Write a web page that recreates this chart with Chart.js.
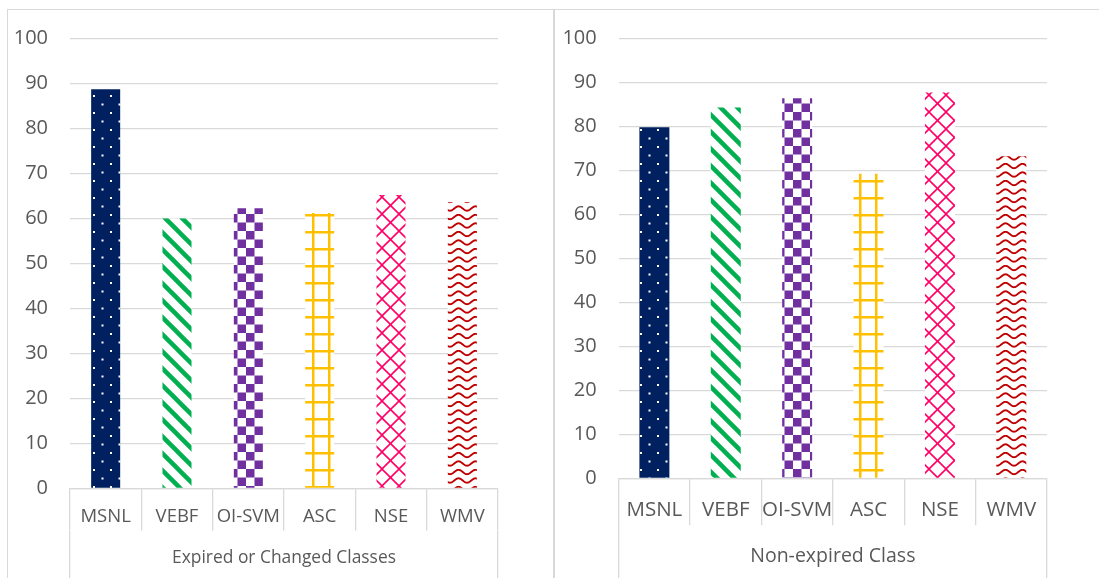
<!DOCTYPE html>
<html>
<head>
<meta charset="utf-8">
<script src="https://cdn.jsdelivr.net/npm/chart.js@4.4.1/dist/chart.umd.min.js"></script>
<style>
  html, body { margin: 0; padding: 0; background: #fff; width: 1099px; height: 578px; overflow: hidden; }
  .panel { position: absolute; top: 9px; height: 600px; box-sizing: border-box;
           border-top: 1.5px solid #d9d9d9; border-left: 1.5px solid #d9d9d9; }
  #p1 { left: 7px; width: 547px; border-right: 1.5px solid #d9d9d9; }
  #p2 { left: 554px; width: 600px; }
  canvas { position: absolute; }
  #c1 { left: 8px; top: 10px; }
  #c2 { left: 555px; top: 10px; }
</style>
</head>
<body>
<div class="panel" id="p1"></div>
<div class="panel" id="p2"></div>
<canvas id="c1" width="544" height="568" style="width:544px;height:568px"></canvas>
<canvas id="c2" width="544" height="568" style="width:544px;height:568px"></canvas>
<script>
// Methods compared
const categories = ['MSNL', 'VEBF', 'OI-SVM', 'ASC', 'NSE', 'WMV'];
// Accuracy (%) on the expired or changed classes
const expiredValues = [88.7, 60.0, 62.3, 61.2, 65.2, 63.6];
// Accuracy (%) on the non-expired class
const nonExpiredValues = [79.8, 84.3, 86.4, 69.2, 87.7, 73.2];
// Group captions under each panel
const groupLabels = ['Expired or Changed Classes', 'Non-expired Class'];
// Value axis
const yMin = 0, yMax = 100, yStep = 10;

const TEXT = '#595959';
const LINE = '#d9d9d9';
Chart.defaults.font.family = "'Open Sans', 'Noto Sans', sans-serif";
Chart.defaults.color = TEXT;

// Build a repeating fill from a small drawn tile
function makePattern(ctx, w, h, draw) {
  const t = document.createElement('canvas');
  t.width = w; t.height = h;
  const g = t.getContext('2d');
  g.fillStyle = '#fff';
  g.fillRect(0, 0, w, h);
  draw(g, w, h);
  return ctx.createPattern(t, 'repeat');
}

function buildFills(ctx) {
  const dots = makePattern(ctx, 17, 17, g => {
    g.fillStyle = '#002060'; g.fillRect(0, 0, 17, 17);
    g.fillStyle = '#fff'; g.fillRect(0, 0, 2, 2); g.fillRect(8.5, 8.5, 2, 2);
  });
  const stripes = makePattern(ctx, 17, 17, g => {
    g.strokeStyle = '#00b050'; g.lineWidth = 4.5;
    for (const k of [-17, 0, 17]) {
      g.beginPath(); g.moveTo(k - 3, -3); g.lineTo(k + 20, 20); g.stroke();
    }
  });
  const checker = makePattern(ctx, 17, 17, g => {
    g.fillStyle = '#7030a0';
    g.fillRect(0, 0, 8.5, 8.5); g.fillRect(8.5, 8.5, 8.5, 8.5);
  });
  const grid = makePattern(ctx, 16, 17, g => {
    g.fillStyle = '#ffc000';
    g.fillRect(0, 0, 2.5, 17); g.fillRect(0, 0, 16, 2.5);
  });
  const lattice = makePattern(ctx, 17, 17, g => {
    g.strokeStyle = '#ff0066'; g.lineWidth = 1.6;
    for (const k of [-17, 0, 17]) {
      g.beginPath(); g.moveTo(k, 0); g.lineTo(k + 17, 17); g.stroke();
      g.beginPath(); g.moveTo(k + 17, 0); g.lineTo(k, 17); g.stroke();
    }
  });
  const waves = makePattern(ctx, 17, 17, g => {
    g.strokeStyle = '#c00000'; g.lineWidth = 1.9;
    for (const base of [3, 11.5]) {
      g.beginPath();
      for (let x = -1; x <= 18; x += 0.5) {
        const y = base + 2.2 * Math.cos(2 * Math.PI * x / 17);
        if (x === -1) g.moveTo(x, y); else g.lineTo(x, y);
      }
      g.stroke();
    }
  });
  return [dots, stripes, checker, grid, lattice, waves];
}

function makeChart(id, values, group, geo) {
  const canvas = document.getElementById(id);
  const ctx = canvas.getContext('2d');
  return new Chart(ctx, {
    type: 'bar',
    data: {
      labels: categories,
      datasets: [{
        data: values,
        backgroundColor: buildFills(ctx),
        borderWidth: 0,
        barPercentage: geo.barPct,
        categoryPercentage: 1,
        xAxisID: 'x'
      }]
    },
    options: {
      responsive: false,
      animation: false,
      events: [],
      layout: { padding: { top: geo.top, right: geo.right, left: 0, bottom: 0 } },
      plugins: { legend: { display: false }, tooltip: { enabled: false } },
      scales: {
        y: {
          min: yMin, max: yMax,
          ticks: { stepSize: yStep, padding: 22, color: TEXT, font: { size: 20 } },
          grid: { color: LINE, lineWidth: 1.3, drawTicks: false },
          border: { display: false },
          afterFit: s => { s.width = geo.yW; s.paddingTop = 0; s.paddingBottom = 0; }
        },
        x: {
          offset: true,
          weight: 0,
          ticks: { padding: geo.xPad, maxRotation: 0, minRotation: 0, autoSkip: false,
                   color: TEXT, font: { size: geo.catSize } },
          grid: { offset: true, drawOnChartArea: false, drawTicks: true,
                  tickLength: geo.xH, color: LINE, lineWidth: 1.3 },
          border: { display: true, color: LINE, width: 1.3 },
          afterFit: s => { s.height = geo.xH; s.paddingLeft = 0; s.paddingRight = 0; }
        },
        x2: {
          type: 'category',
          position: 'bottom',
          weight: 1,
          labels: [group],
          offset: true,
          ticks: { padding: geo.x2Pad, maxRotation: 0, minRotation: 0, color: TEXT,
                   font: { size: geo.groupSize } },
          grid: { offset: true, drawOnChartArea: false, drawTicks: true,
                  tickLength: geo.x2H, color: LINE, lineWidth: 1.3 },
          border: { display: false },
          afterFit: s => { s.height = geo.x2H; s.paddingLeft = 0; s.paddingRight = 0; }
        }
      }
    }
  });
}

makeChart('c1', expiredValues, groupLabels[0],
  { top: 28.5, right: 54, yW: 62, xH: 42, x2H: 47.5, catSize: 18.5, groupSize: 17.4,
    xPad: -24.9, x2Pad: -30.7, barPct: 0.407 });
makeChart('c2', nonExpiredValues, groupLabels[1],
  { top: 28.3, right: 52, yW: 63.7, xH: 47, x2H: 52.7, catSize: 20.5, groupSize: 19.5,
    xPad: -27.6, x2Pad: -33, barPct: 0.42 });
</script>
</body>
</html>
